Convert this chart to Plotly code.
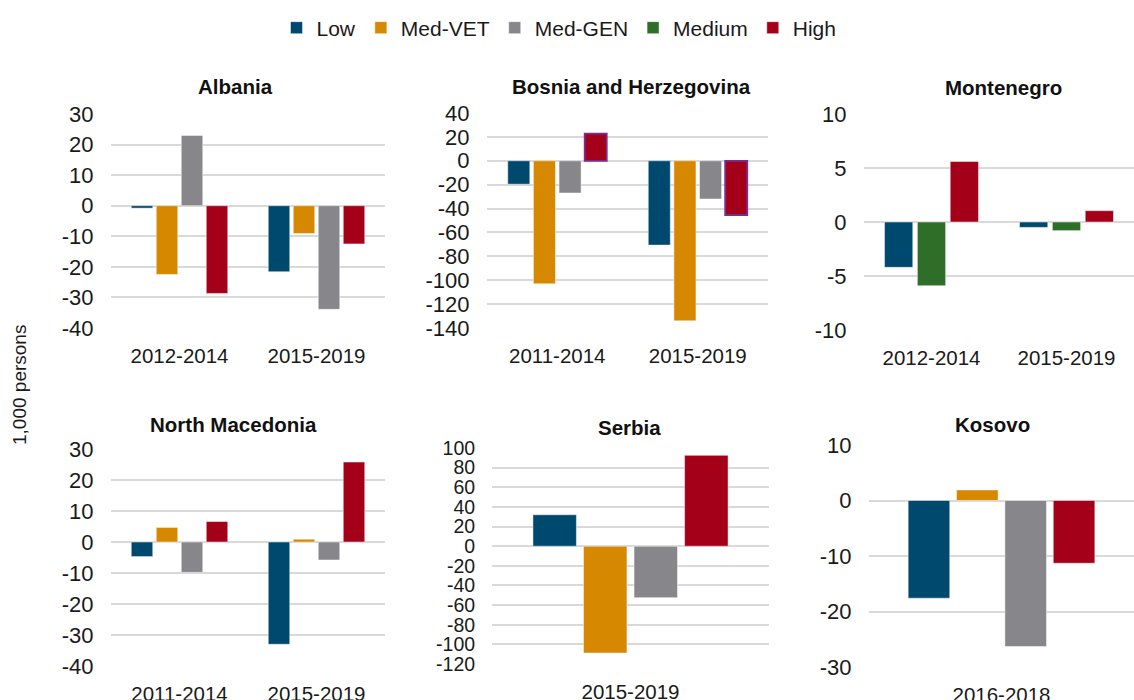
import plotly.graph_objects as go

W, H = 1134, 700

series = ["Low", "Med-VET", "Med-GEN", "Medium", "High"]
colors = {"Low": "#00496E", "Med-VET": "#D68800", "Med-GEN": "#87868B",
          "Medium": "#2F6E28", "High": "#A5001A"}

# ---- data (1,000 persons) ----
albania_periods = ["2012-2014", "2015-2019"]
albania = {"Low": [-0.8, -21.6], "Med-VET": [-22.5, -9.1],
           "Med-GEN": [23.0, -33.9], "High": [-28.7, -12.5]}

bosnia_periods = ["2011-2014", "2015-2019"]
bosnia = {"Low": [-19.6, -70.6], "Med-VET": [-103.0, -134.0],
          "Med-GEN": [-27.0, -32.0], "High": [22.7, -45.4]}

montenegro_periods = ["2012-2014", "2015-2019"]
montenegro = {"Low": [-4.2, -0.5], "Medium": [-5.9, -0.8], "High": [5.6, 1.05]}

macedonia_periods = ["2011-2014", "2015-2019"]
macedonia = {"Low": [-4.7, -33.0], "Med-VET": [4.7, 0.9],
             "Med-GEN": [-9.8, -5.8], "High": [6.6, 25.8]}

serbia_periods = ["2015-2019"]
serbia = {"Low": [32.0], "Med-VET": [-108.8], "Med-GEN": [-52.4], "High": [92.5]}

kosovo_periods = ["2016-2018"]
kosovo = {"Low": [-17.6], "Med-VET": [1.9], "Med-GEN": [-26.3], "High": [-11.3]}

panels = [
    # title, periods, data, yrange, dtick, plot box px (x0,x1,y0,y1), title px (x,y), tick size
    ("Albania", albania_periods, albania, [-40, 30], 10, (111, 385, 114, 328), (235, 86), 22),
    ("Bosnia and Herzegovina", bosnia_periods, bosnia, [-140, 40], 20, (487, 768, 113, 328), (631, 86), 22),
    ("Montenegro", montenegro_periods, montenegro, [-10, 10], 5, (864, 1134, 114, 330), (1003, 87), 22),
    ("North Macedonia", macedonia_periods, macedonia, [-40, 30], 10, (111, 385, 449, 666), (233, 424), 22),
    ("Serbia", serbia_periods, serbia, [-120, 100], 20, (492, 769, 448, 664), (629, 427), 19.5),
    ("Kosovo", kosovo_periods, kosovo, [-30, 10], 10, (869, 1134, 445, 667), (992, 425), 22),
]

FONT = "Liberation Sans, Arial, sans-serif"
TXT = "#1a1a1a"
fig = go.Figure()
shown = set()
annotations = []
layout_axes = {}

for i, (title, periods, data, yr, dt, box, tpos, tsz) in enumerate(panels):
    n = "" if i == 0 else str(i + 1)
    xa, ya = "x" + n, "y" + n
    x0, x1, y0, y1 = box
    for s in series:
        if s not in data:
            continue
        line = dict(width=0.8, color="rgba(255,255,255,0.6)")
        if title == "Bosnia and Herzegovina" and s == "High":
            line = dict(width=1.8, color="#7B2D8E")
        fig.add_trace(go.Bar(
            x=periods, y=data[s], name=s, marker=dict(color=colors[s], line=line),
            xaxis=xa, yaxis=ya, legendgroup=s, showlegend=s not in shown,
            legendrank=series.index(s) + 1,
        ))
        shown.add(s)
    tv = list(range(yr[0], yr[1] + 1, dt))
    layout_axes["xaxis" + n] = dict(
        domain=[x0 / W, x1 / W], anchor=ya, type="category", automargin=False,
        showgrid=False, zeroline=False, showline=False,
        ticks="outside", ticklen=9, tickcolor="rgba(0,0,0,0)",
        tickfont=dict(size=20.5, color=TXT, family=FONT), fixedrange=True,
    )
    layout_axes["yaxis" + n] = dict(
        domain=[1 - y1 / H, 1 - y0 / H], anchor=xa, range=yr, automargin=False,
        tickmode="array", tickvals=tv, ticktext=[str(v) for v in tv],
        showgrid=True, gridcolor="#D9D9D9", gridwidth=1.6,
        zeroline=True, zerolinecolor="#D9D9D9", zerolinewidth=1.6,
        showline=False, ticks="outside", ticklen=12, tickcolor="rgba(0,0,0,0)",
        tickfont=dict(size=tsz, color=TXT, family=FONT), fixedrange=True,
    )
    annotations.append(dict(
        text="<b>" + title + "</b>", x=tpos[0] / W, y=1 - tpos[1] / H,
        xref="paper", yref="paper", xanchor="center", yanchor="middle",
        showarrow=False, font=dict(size=20.5, color="#111111", family=FONT),
    ))

annotations.append(dict(
    text="1,000 persons", x=19 / W, y=1 - 385 / H, xref="paper", yref="paper",
    xanchor="center", yanchor="middle", textangle=-90, showarrow=False,
    font=dict(size=19, color=TXT, family=FONT),
))

fig.update_layout(
    template="none",
    width=W, height=H, margin=dict(l=0, r=0, t=0, b=0, autoexpand=False),
    paper_bgcolor="white", plot_bgcolor="white",
    font=dict(family=FONT, color=TXT),
    barmode="group", bargap=0.27, bargroupgap=0.14,
    showlegend=True,
    legend=dict(orientation="h", x=559 / W, xanchor="center", y=1 - 28 / H, yanchor="middle",
                font=dict(size=21, color=TXT, family=FONT), bgcolor="rgba(0,0,0,0)",
                itemwidth=30, tracegroupgap=0, traceorder="normal"),
    annotations=annotations,
    **layout_axes,
)

fig.write_html("out.html", config={"displayModeBar": False},
               post_script="document.body.style.margin='0';document.body.style.overflow='hidden';")
